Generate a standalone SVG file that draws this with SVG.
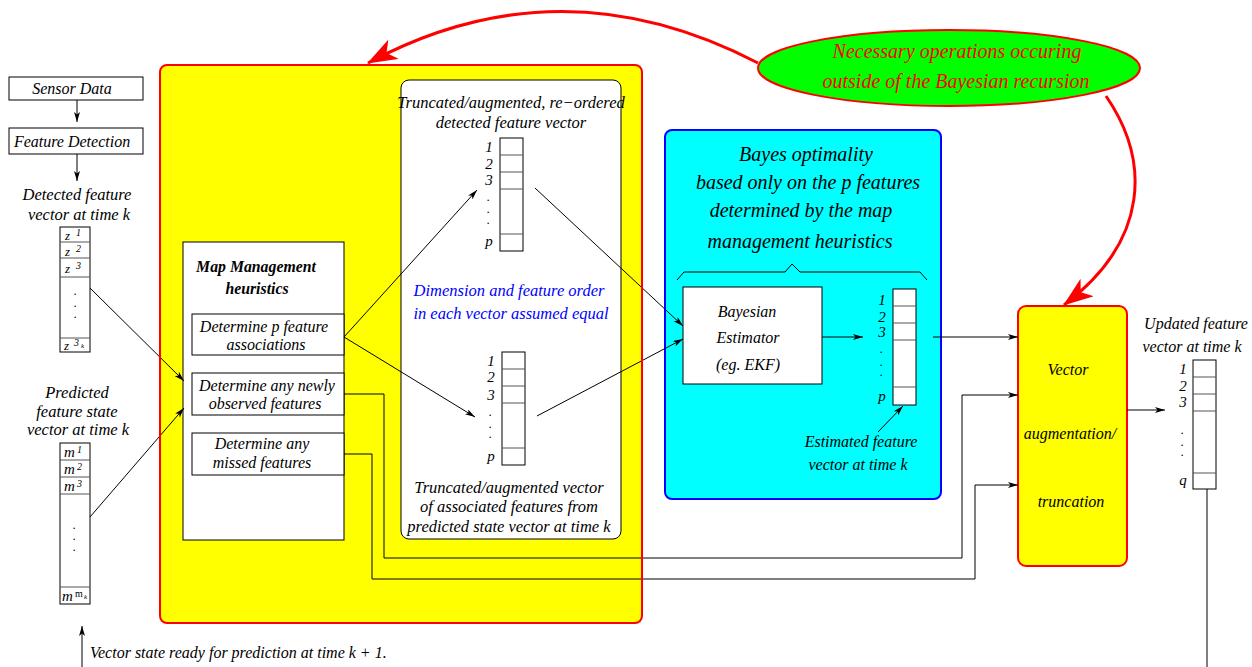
<svg xmlns="http://www.w3.org/2000/svg" width="1252" height="667" viewBox="0 0 1252 667">
<style>
text{font-family:"Liberation Serif","Times New Roman",serif;font-style:italic;fill:#000}
.t14{font-size:16px}
.t15{font-size:16.5px}
.tl{font-size:15px}
.t13{font-size:13px}
.t18{font-size:20px}
.dot{font-size:9px;font-weight:bold;font-style:normal;text-anchor:middle}
.sup{font-size:10px}
.sub{font-size:7px}
.b{font-weight:bold;font-size:15.8px}
.c{text-anchor:middle}
.blue{fill:#0000ff}
.red{fill:#ff0000}
.box{fill:#fff;stroke:#000;stroke-width:1}
.cell{fill:#fff;stroke:#000;stroke-width:1}
.div{stroke:#555;stroke-width:1}
.ln{fill:none;stroke:#000;stroke-width:1}
.arr{fill:none;stroke:#000;stroke-width:1;marker-end:url(#ah)}
.rarr{fill:none;stroke:#ff0000;stroke-width:3;marker-end:url(#rah)}
</style>
<defs>
<marker id="ah" viewBox="0 0 10 6" refX="10" refY="3" markerWidth="11" markerHeight="6" markerUnits="userSpaceOnUse" orient="auto">
<path d="M0,0 L10,3 L0,6 L2.5,3 z" fill="#000"/>
</marker>
<marker id="rah" viewBox="0 0 30 22" refX="29" refY="11" markerWidth="30" markerHeight="22" markerUnits="userSpaceOnUse" orient="auto">
<path d="M0,0 L30,11 L0,22 L8,11 z" fill="#ff0000"/>
</marker>
</defs>
<rect width="1252" height="667" fill="#fff"/>

<g id="yellow-region">
<rect x="160" y="65" width="482" height="558" rx="7" fill="#ffff00"/>
</g>

<g id="white-panel">
<rect x="401" y="80" width="220" height="459" rx="8" class="box"/>
<text class="t15 c" x="511" y="108">Truncated/augmented, re−ordered</text>
<text class="t15 c" x="511" y="128">detected feature vector</text>
<text class="t15 c blue" x="509" y="296">Dimension and feature order</text>
<text class="t15 c blue" x="511" y="319">in each vector assumed equal</text>
<text class="t15 c" x="509" y="493">Truncated/augmented vector</text>
<text class="t15 c" x="509" y="512">of associated features from</text>
<text class="t15 c" x="509" y="532">predicted state vector at time k</text>
</g>

<g id="cyan-panel">
<rect x="665" y="130" width="276" height="369" rx="7" fill="#00ffff" stroke="#0000ff" stroke-width="2"/>
<text class="t18 c" x="806" y="161">Bayes optimality</text>
<text class="t18 c" x="808" y="189">based only on the p features</text>
<text class="t18 c" x="801" y="217">determined by the map</text>
<text class="t18 c" x="800" y="248">management heuristics</text>
<path d="M677,280 L684,272 L785,272 L792,264 L800,272 L920,272 L927,280" class="ln"/>
<text class="t14 c" x="861" y="447">Estimated feature</text>
<text class="t14 c" x="858" y="470">vector at time k</text>
</g>

<g id="sensor-data">
<rect x="9" y="77" width="134" height="23" class="box"/>
<text class="t14 c" x="72" y="94">Sensor Data</text>
</g>
<g id="feature-detection">
<rect x="9" y="128" width="134" height="26" class="box"/>
<text class="t14 c" x="72" y="147">Feature Detection</text>
</g>

<g id="detected-vector">
<text class="t15 c" x="77" y="200">Detected feature</text>
<text class="t15 c" x="79" y="220">vector at time k</text>
<rect x="60" y="227" width="30" height="125" class="cell"/>
<path d="M60,242H90M60,258H90M60,277H90M60,338H90" class="div"/>
<text class="t13" x="65" y="240">z</text><text class="sup" x="76" y="236">1</text>
<text class="t13" x="65" y="256">z</text><text class="sup" x="76" y="252">2</text>
<text class="t13" x="65" y="273">z</text><text class="sup" x="76" y="269">3</text>
<text class="dot" x="75" y="295">.</text>
<text class="dot" x="75" y="307">.</text>
<text class="dot" x="75" y="318">.</text>
<text class="t13" x="64" y="350">z</text><text class="sup" x="74" y="346">3</text><text class="sub" x="81" y="348">k</text>
</g>

<g id="predicted-vector">
<text class="t15 c" x="77" y="398">Predicted</text>
<text class="t15 c" x="77" y="417">feature state</text>
<text class="t15 c" x="78" y="435">vector at time k</text>
<rect x="60" y="443" width="30" height="161" class="cell"/>
<path d="M60,460H90M60,477H90M60,494H90M60,587H90" class="div"/>
<text class="tl" x="64" y="457">m</text><text class="sup" x="77" y="453">1</text>
<text class="tl" x="64" y="474">m</text><text class="sup" x="77" y="470">2</text>
<text class="tl" x="64" y="491">m</text><text class="sup" x="77" y="487">3</text>
<text class="dot" x="74" y="529">.</text>
<text class="dot" x="74" y="540">.</text>
<text class="dot" x="74" y="551">.</text>
<text class="tl" x="62" y="601">m</text><text class="sup" x="75" y="597" style="font-style:normal">m</text><text class="sub" x="84" y="599">k</text>
</g>

<g id="map-management">
<rect x="183" y="242" width="161" height="298" class="box"/>
<text class="b c" x="256" y="272">Map Management</text>
<text class="b c" x="257" y="294">heuristics</text>
</g>
<g id="det-associations">
<rect x="192" y="314" width="152" height="41" class="box"/>
<text class="t14 c" x="264" y="332">Determine p feature</text>
<text class="t14 c" x="266" y="350">associations</text>
</g>
<g id="det-new">
<rect x="192" y="373" width="152" height="42" class="box"/>
<text class="t14 c" x="267" y="391">Determine any newly</text>
<text class="t14 c" x="265" y="409">observed features</text>
</g>
<g id="det-missed">
<rect x="192" y="433" width="152" height="42" class="box"/>
<text class="t14 c" x="262" y="449">Determine any</text>
<text class="t14 c" x="262" y="468">missed features</text>
</g>

<g id="reordered-vector">
<rect x="500" y="138" width="23" height="113" class="cell"/>
<path d="M500,155H523M500,172H523M500,189H523M500,234H523" class="div"/>
<text class="tl c" x="489" y="152">1</text>
<text class="tl c" x="489" y="169">2</text>
<text class="tl c" x="489" y="185">3</text>
<text class="dot" x="488" y="201">.</text>
<text class="dot" x="488" y="213">.</text>
<text class="dot" x="488" y="224">.</text>
<text class="tl c" x="489" y="246">p</text>
</g>

<g id="associated-vector">
<rect x="502" y="352" width="23" height="113" class="cell"/>
<path d="M502,369H525M502,386H525M502,403H525M502,448H525" class="div"/>
<text class="tl c" x="491" y="366">1</text>
<text class="tl c" x="491" y="382">2</text>
<text class="tl c" x="491" y="400">3</text>
<text class="dot" x="490" y="416">.</text>
<text class="dot" x="490" y="428">.</text>
<text class="dot" x="490" y="438">.</text>
<text class="tl c" x="491" y="461">p</text>
</g>

<g id="bayesian-estimator">
<rect x="683" y="287" width="139" height="97" class="box"/>
<text class="t14 c" x="747" y="317">Bayesian</text>
<text class="t14 c" x="748" y="343">Estimator</text>
<text class="t14 c" x="748" y="370">(eg. EKF)</text>
</g>

<g id="estimated-vector">
<rect x="893" y="289" width="23" height="116" class="cell"/>
<path d="M893,306H916M893,323H916M893,340H916M893,387H916" class="div"/>
<text class="tl c" x="882" y="305">1</text>
<text class="tl c" x="882" y="322">2</text>
<text class="tl c" x="882" y="337">3</text>
<text class="dot" x="881" y="353">.</text>
<text class="dot" x="881" y="366">.</text>
<text class="dot" x="881" y="376">.</text>
<text class="tl c" x="882" y="401">p</text>
</g>

<g id="vector-augmentation">
<rect x="1018" y="306" width="109" height="260" rx="8" fill="#ffff00" stroke="#ff0000" stroke-width="2"/>
<text class="t14 c" x="1068" y="375">Vector</text>
<text class="t14 c" x="1070" y="439">augmentation/</text>
<text class="t14 c" x="1071" y="507">truncation</text>
</g>

<g id="updated-vector">
<text class="t14 c" x="1196" y="329">Updated feature</text>
<text class="t14 c" x="1192" y="352">vector at time k</text>
<rect x="1193" y="360" width="23" height="129" class="cell"/>
<path d="M1193,377H1216M1193,394H1216M1193,411H1216M1193,473H1216" class="div"/>
<text class="tl c" x="1183" y="374">1</text>
<text class="tl c" x="1183" y="391">2</text>
<text class="tl c" x="1183" y="407">3</text>
<text class="dot" x="1182" y="434">.</text>
<text class="dot" x="1182" y="446">.</text>
<text class="dot" x="1182" y="456">.</text>
<text class="tl c" x="1183" y="485">q</text>
</g>

<g id="outside-operations">
<ellipse cx="949" cy="68" rx="191" ry="38" fill="#00ff00" stroke="#ff0000" stroke-width="2"/>
<text class="t18 c red" x="957" y="58">Necessary operations occuring</text>
<text class="t18 c red" x="956" y="88">outside of the Bayesian recursion</text>
</g>

<g id="bottom-note">
<text class="t14" x="90" y="658">Vector state ready for prediction at time k + 1.</text>
</g>

<g id="connectors">
<path d="M77,100 V122" class="arr"/>
<path d="M77,154 V181" class="arr"/>
<path d="M90,288 L184,381" class="arr"/>
<path d="M90,517 L184,408" class="arr"/>
<path d="M344,337 L477,190" class="arr"/>
<path d="M344,337 L475,417" class="arr"/>
<path d="M535,188 L683,326" class="arr"/>
<path d="M537,416 L683,339" class="arr"/>
<path d="M822,337 L863,337" class="arr"/>
<path d="M878,432 L903,406" class="arr"/>
<path d="M933,337 L1018,337" class="arr"/>
<path d="M344,394 H384 V558 H962 V395 H1018" class="arr"/>
<path d="M344,454 H372 V579 H975 V485 H1018" class="arr"/>
<path d="M1127,410 L1165,410" class="arr"/>
<path d="M1207,489 V667" class="ln"/>
<path d="M82,667 V626" class="arr"/>
</g>

<g id="yellow-border">
<rect x="160" y="65" width="482" height="558" rx="7" fill="none" stroke="#ff0000" stroke-width="2"/>
</g>

<g id="red-connectors">
<path d="M758,63 Q560,-40 368,63" class="rarr"/>
<path d="M1106,96 C1150,160 1150,240 1064,305" class="rarr"/>
</g>
</svg>
